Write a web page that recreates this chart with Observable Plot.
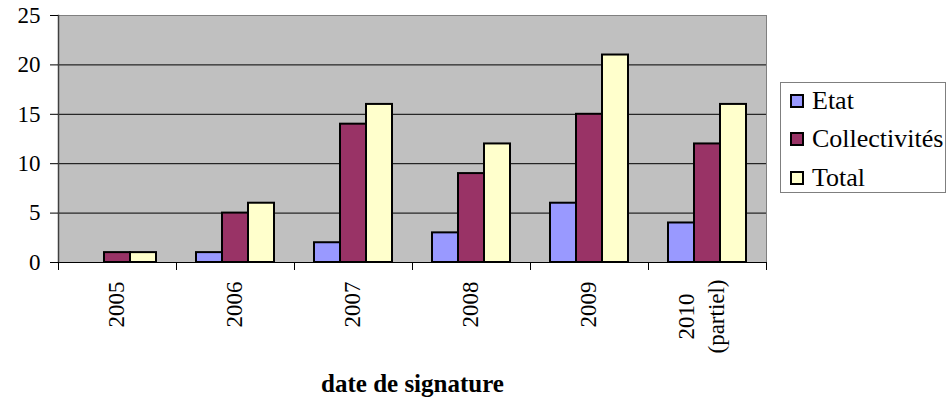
<!DOCTYPE html>
<html><head><meta charset="utf-8">
<script src="https://cdn.jsdelivr.net/npm/d3@7"></script>
<script src="https://cdn.jsdelivr.net/npm/@observablehq/plot@0.6"></script>
<style>
body{margin:0;background:#fff;}
#wrap{position:relative;width:950px;height:409px;overflow:hidden;}
#legend{position:absolute;left:780px;top:82px;width:166px;height:111px;border:1px solid #7f7f7f;box-sizing:border-box;font-family:"Liberation Serif","DejaVu Serif","Times New Roman",serif;font-size:26px;color:#000;}
#legend .row{position:absolute;left:9px;height:30px;display:flex;align-items:center;white-space:nowrap;}
#legend .sw{width:10px;height:10px;border:2px solid #000;margin-right:8px;flex:none;}
</style></head>
<body><div id="wrap"></div>
<script>
const years = ["2005","2006","2007","2008","2009","2010"];
const yearLabels = ["2005","2006","2007","2008","2009","2010\n(partiel)"];
const series = ["Etat","Collectivités","Total"];
const etat = [0,1,2,3,6,4];
const collectivites = [1,5,14,9,15,12];
const total = [1,6,16,12,21,16];
const colors = ["#9999ff","#993366","#ffffcc"];
const yTicks = [0,5,10,15,20,25];
const gridValues = [5,10,15,20];
const xTitle = "date de signature";
const FONT = "'Liberation Serif', 'DejaVu Serif', 'Times New Roman', serif";

const rows = [];
years.forEach((yr,i)=>{
  [etat,collectivites,total].forEach((arr,j)=>{
    rows.push({year:yr, series:series[j], value:arr[i]});
  });
});
const bars = rows.filter(d=>d.value>0);
const labelRows = years.map((y,i)=>({year:y, label:yearLabels[i]}));
const singleLabels = labelRows.filter(d=>!d.label.includes("\n"));
const multiLabels = labelRows.filter(d=>d.label.includes("\n"));

const chart = Plot.plot({
  width:950, height:409, marginTop:15, marginBottom:147, marginLeft:57, marginRight:183,
  style:{fontFamily:FONT, fontSize:"23px", color:"#000", background:"transparent", overflow:"visible"},
  fx:{domain:years, padding:0, axis:null, label:null},
  x:{domain:series, paddingInner:0, paddingOuter:0.7, axis:null},
  y:{domain:[0,25], label:null},
  color:{domain:series, range:colors},
  marks:[
    Plot.frame({facet:"super", fill:"#c0c0c0", stroke:null}),
    Plot.ruleY(gridValues, {stroke:"#000", strokeWidth:1}),
    Plot.barY(bars, {fx:"year", x:"series", y:"value", fill:"series", stroke:"#000", strokeWidth:2}),
    Plot.ruleY([0], {stroke:"#000", strokeWidth:1}),
    Plot.frame({facet:"super", anchor:"top", stroke:"#808080"}),
    Plot.frame({facet:"super", anchor:"right", stroke:"#808080"}),
    Plot.frame({facet:"super", anchor:"left", stroke:"#404040", strokeWidth:1.5}),
    Plot.frame({anchor:"left", stroke:"#000", insetTop:247, insetBottom:-7}),
    Plot.frame({anchor:"right", stroke:"#000", insetTop:247, insetBottom:-7}),
    Plot.axisY({ticks:yTicks, tickSize:8, tickPadding:10, label:null, stroke:"#000", fill:"#000", fontSize:23, fontFamily:FONT}),
    Plot.text(singleLabels, {fx:"year", text:"label", frameAnchor:"bottom", rotate:-90, textAnchor:"end", dx:6, dy:19, fontSize:23, fill:"#000"}),
    Plot.text(multiLabels, {fx:"year", text:"label", frameAnchor:"bottom", rotate:-90, textAnchor:"middle", dx:16, dy:54, fontSize:23, lineHeight:1.3, fill:"#000"}),
    Plot.text([xTitle], {facet:"super", text:d=>d, frameAnchor:"bottom", dy:129, fontWeight:"bold", fontSize:25, fill:"#000"})
  ]
});
const wrap = document.getElementById("wrap");
wrap.appendChild(chart);
const legend = document.createElement("div");
legend.id = "legend";
const rowCenters = [19, 57, 96];
series.forEach((s,i)=>{
  const r = document.createElement("div"); r.className="row";
  r.style.top = (rowCenters[i] - 15 - 1) + "px";
  const sw = document.createElement("span"); sw.className="sw"; sw.style.background = colors[i];
  const t = document.createElement("span"); t.textContent = s;
  r.appendChild(sw); r.appendChild(t); legend.appendChild(r);
});
wrap.appendChild(legend);
</script>
</body></html>
